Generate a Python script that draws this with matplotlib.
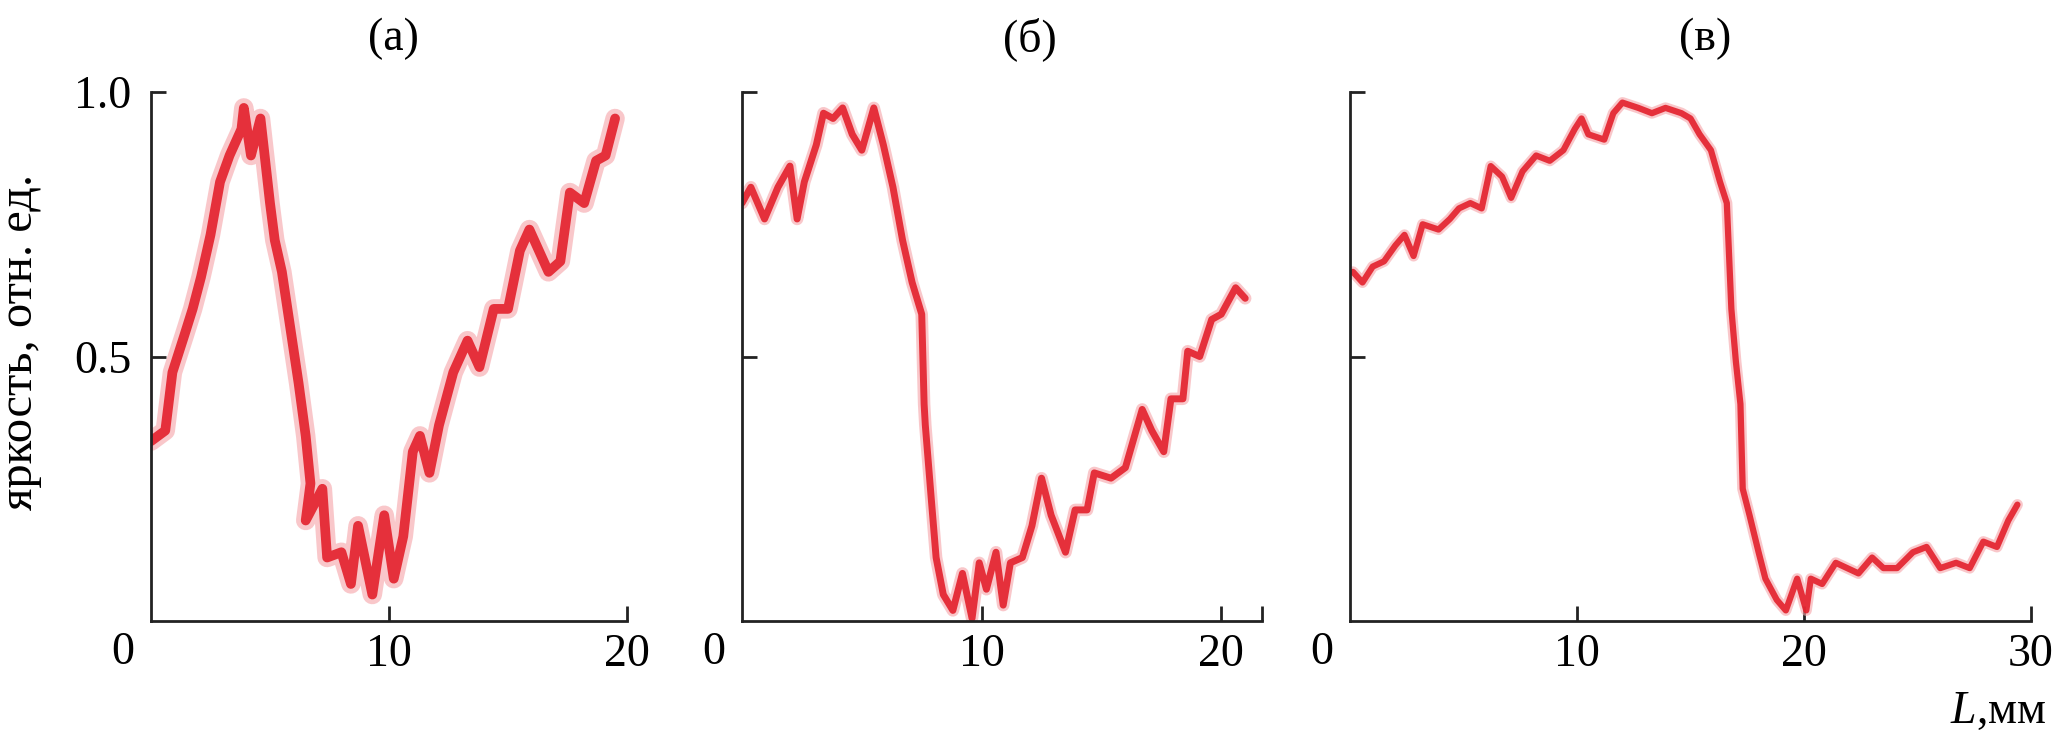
import matplotlib
matplotlib.use("Agg")
import matplotlib.pyplot as plt

plt.rcParams['font.family'] = ['Liberation Serif', 'DejaVu Serif']
plt.rcParams['mathtext.fontset'] = 'custom'
plt.rcParams['mathtext.it'] = 'Liberation Serif:italic'
plt.rcParams['mathtext.rm'] = 'Liberation Serif'

# panel (а): brightness profile, L in mm
xa = [0.0, 0.6, 0.9, 1.4, 1.75, 2.1, 2.5, 2.9, 3.3, 3.8, 3.9, 4.2, 4.6, 4.8, 5.0,
      5.2, 5.5, 5.7, 5.9, 6.2, 6.5, 6.7, 6.5, 7.2, 7.4, 8.0, 8.4, 8.7, 9.3, 9.8,
      10.2, 10.6, 11.0, 11.3, 11.7, 12.1, 12.7, 13.3, 13.8, 14.4, 15.0, 15.5,
      15.9, 16.7, 17.2, 17.6, 18.2, 18.7, 19.1, 19.5]
ya = [0.34, 0.36, 0.47, 0.54, 0.59, 0.65, 0.73, 0.83, 0.88, 0.93, 0.97, 0.88,
      0.95, 0.87, 0.79, 0.72, 0.66, 0.60, 0.54, 0.45, 0.35, 0.26, 0.19, 0.25,
      0.12, 0.13, 0.07, 0.18, 0.05, 0.20, 0.08, 0.16, 0.32, 0.35, 0.28, 0.37,
      0.47, 0.53, 0.48, 0.59, 0.59, 0.70, 0.74, 0.66, 0.68, 0.81, 0.79, 0.87,
      0.88, 0.95]

# panel (б)
xb = [0.0, 0.37, 0.94, 1.5, 2.0, 2.3, 2.6, 3.1, 3.4, 3.8, 4.2, 4.6, 5.0, 5.5,
      5.9, 6.2, 6.3, 6.7, 7.1, 7.5, 7.6, 7.65, 7.9, 8.1, 8.4, 8.8, 9.2, 9.6,
      9.9, 10.2, 10.6, 10.9, 11.2, 11.7, 12.1, 12.5, 12.9, 13.5, 13.9, 14.4,
      14.7, 15.4, 16.0, 16.7, 17.1, 17.6, 17.9, 18.4, 18.6, 19.1, 19.6, 20.0,
      20.6, 21.0]
yb = [0.79, 0.82, 0.76, 0.82, 0.86, 0.76, 0.83, 0.90, 0.96, 0.95, 0.97, 0.92,
      0.89, 0.97, 0.90, 0.84, 0.82, 0.72, 0.64, 0.58, 0.41, 0.37, 0.23, 0.12,
      0.05, 0.02, 0.09, 0.005, 0.11, 0.06, 0.13, 0.03, 0.11, 0.12, 0.18, 0.27,
      0.20, 0.13, 0.21, 0.21, 0.28, 0.27, 0.29, 0.40, 0.36, 0.32, 0.42, 0.42,
      0.51, 0.50, 0.57, 0.58, 0.63, 0.61]

# panel (в)
xc = [0.13, 0.55, 1.0, 1.5, 2.0, 2.4, 2.8, 3.2, 3.9, 4.4, 4.8, 5.3, 5.8, 6.2,
      6.7, 7.1, 7.6, 8.2, 8.8, 9.4, 9.9, 10.2, 10.5, 11.2, 11.6, 12.0, 12.7,
      13.3, 13.9, 14.6, 15.0, 15.4, 15.9, 16.3, 16.6, 16.7, 16.8, 17.0, 17.2,
      17.3, 17.6, 18.0, 18.3, 18.8, 19.2, 19.7, 20.1, 20.3, 20.8, 21.4, 21.9,
      22.4, 23.0, 23.5, 24.1, 24.8, 25.4, 26.0, 26.7, 27.3, 27.9, 28.5, 29.0,
      29.4]
yc = [0.66, 0.64, 0.67, 0.68, 0.71, 0.73, 0.69, 0.75, 0.74, 0.76, 0.78, 0.79,
      0.78, 0.86, 0.84, 0.80, 0.85, 0.88, 0.87, 0.89, 0.93, 0.95, 0.92, 0.91,
      0.96, 0.98, 0.97, 0.96, 0.97, 0.96, 0.95, 0.92, 0.89, 0.83, 0.79, 0.69,
      0.59, 0.49, 0.41, 0.25, 0.20, 0.13, 0.08, 0.04, 0.02, 0.08, 0.02, 0.08,
      0.07, 0.11, 0.10, 0.09, 0.12, 0.10, 0.10, 0.13, 0.14, 0.10, 0.11, 0.10,
      0.15, 0.14, 0.19, 0.22]

titles = ['(а)', '(б)', '(в)']
xlims = [20, 21.7, 30]
xtick_sets = [[10, 20], [10, 20, 21.7], [10, 20, 30]]
xlabel_sets = [['10', '20'], ['10', '20', ''], ['10', '20', '30']]

fig = plt.figure(figsize=(20.55, 7.5), dpi=100)
W = 2055.0
H = 750.0
rects = [[151 / W, 0.172, 476 / W, 0.7053],
         [742 / W, 0.172, 520 / W, 0.7053],
         [1350 / W, 0.172, 681 / W, 0.7053]]
widths = [(14, 7), (9, 5), (8, 4.5)]
title_x = [393, 1030, 1705]

for i, (x, y) in enumerate([(xa, ya), (xb, yb), (xc, yc)]):
    ax = fig.add_axes(rects[i])
    halo, core = widths[i]
    ax.plot(x, y, color='#f5a3a8', lw=halo, alpha=0.6,
            solid_joinstyle='round', solid_capstyle='round')
    ax.plot(x, y, color='#e3202b', lw=core, alpha=0.9,
            solid_joinstyle='round', solid_capstyle='round')
    ax.set_xlim(0, xlims[i])
    ax.set_ylim(0, 1.0)
    for s in ['top', 'right']:
        ax.spines[s].set_visible(False)
    for s in ['left', 'bottom']:
        ax.spines[s].set_linewidth(2)
        ax.spines[s].set_color('#222222')
    ax.set_xticks(xtick_sets[i])
    ax.set_xticklabels(xlabel_sets[i])
    ax.set_yticks([0.5, 1.0])
    if i == 0:
        ax.set_yticklabels(['0.5', '1.0'])
    else:
        ax.set_yticklabels([])
    ax.tick_params(direction='in', length=11, width=2, labelsize=33,
                   color='#222222')
    ax.tick_params(axis='x', pad=9)
    ax.tick_params(axis='y', pad=14)
    ax.annotate('0', xy=(0, 0), xycoords='axes fraction', xytext=(-28, -32),
                textcoords='offset pixels', ha='center', va='center',
                fontsize=33)
    fig.text(title_x[i] / W, 1 - 39 / H, titles[i], ha='center',
             va='center', fontsize=33)

fig.text(32 / W, 1 - 342 / H, 'яркость, отн. ед.', rotation=90,
         rotation_mode='anchor', ha='center', va='baseline', fontsize=35)
fig.text(2046 / W, 1 - 723 / H, '$L$,мм', ha='right', va='baseline',
         fontsize=33)

fig.savefig('out.png', dpi=100)
